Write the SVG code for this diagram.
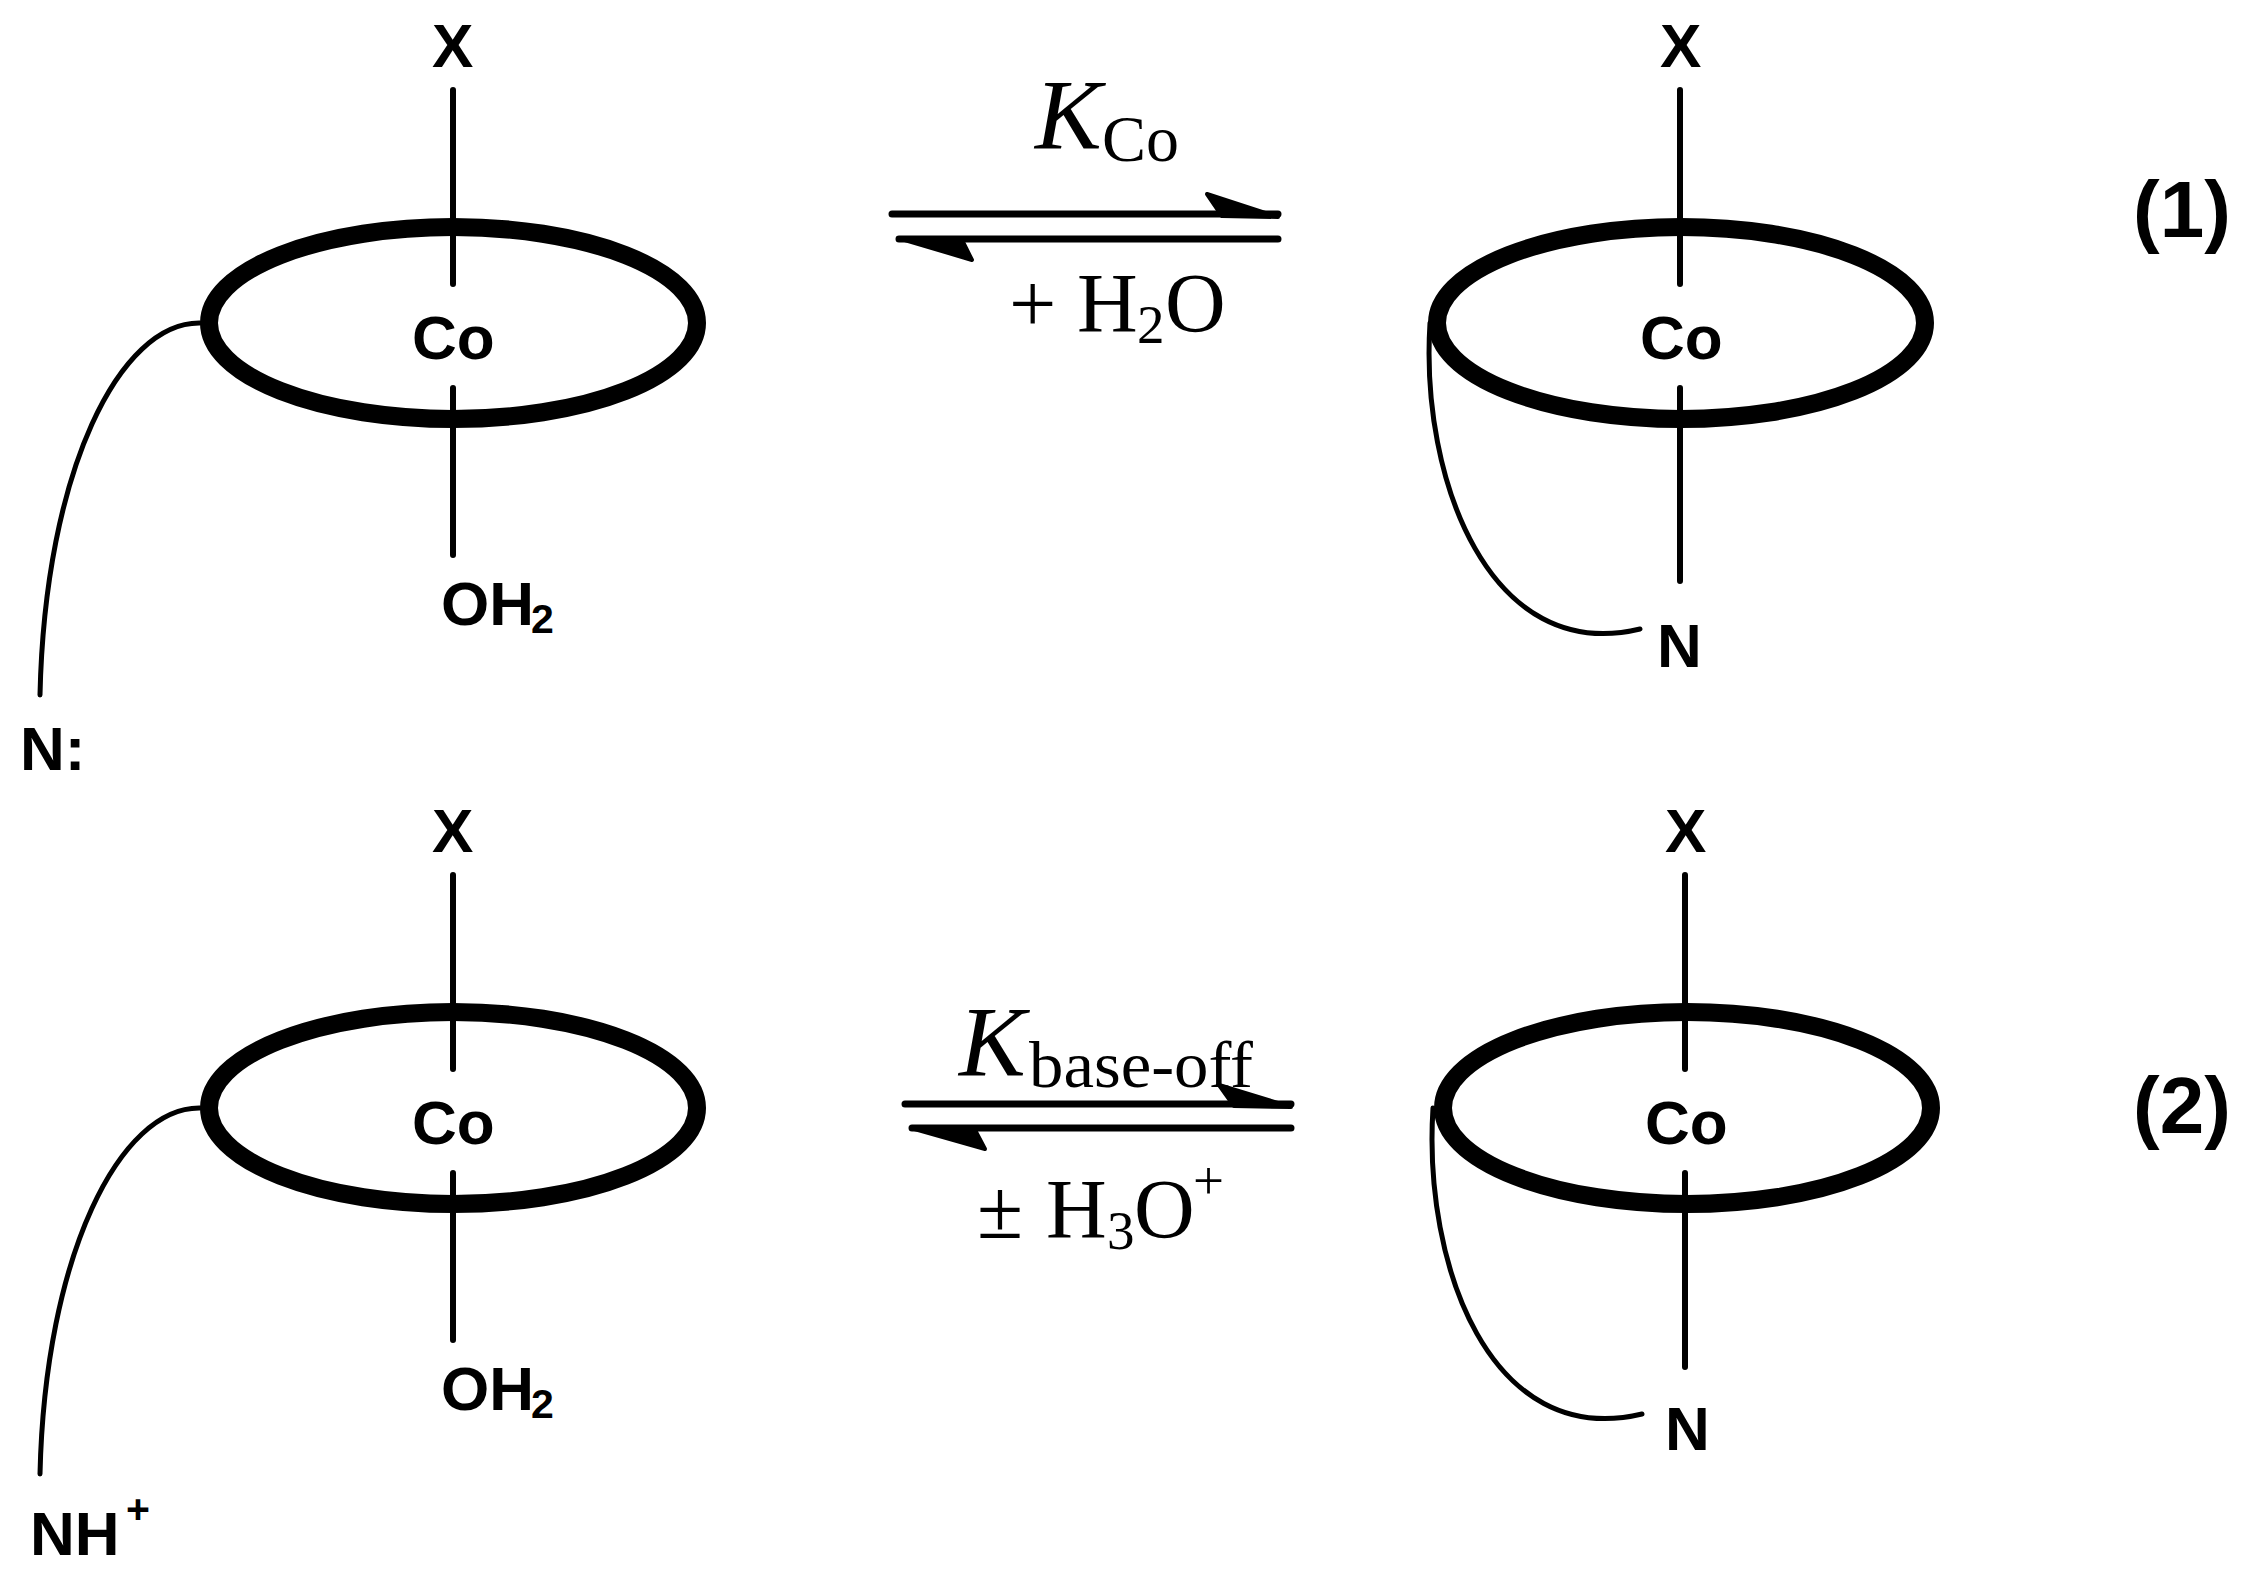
<svg xmlns="http://www.w3.org/2000/svg" width="2251" height="1578" viewBox="0 0 2251 1578">
<style>
.ring{fill:none;stroke:#000;stroke-width:18}
.bond{fill:none;stroke:#000;stroke-width:6;stroke-linecap:round}
.arm{fill:none;stroke:#000;stroke-width:5;stroke-linecap:round}
.arr{fill:none;stroke:#000;stroke-width:7;stroke-linecap:round}
.head{fill:#000;stroke:#000;stroke-width:4;stroke-linejoin:round}
text{fill:#000}
.b{font-family:"Liberation Sans",Arial,sans-serif;font-weight:700;font-size:62px}
.s{font-family:"Liberation Sans",Arial,sans-serif;font-weight:700;font-size:41px}
.n{font-family:"Liberation Sans",Arial,sans-serif;font-weight:700;font-size:80px}
.k{font-family:"Liberation Serif","Times New Roman",serif;font-style:italic;font-size:100px}
.t{font-family:"Liberation Serif","Times New Roman",serif;font-size:84px}
.u{font-family:"Liberation Serif","Times New Roman",serif;font-size:66px}
.v{font-family:"Liberation Serif","Times New Roman",serif;font-size:55px}
</style>
<g id="complex-1-left">
<ellipse class="ring" cx="453" cy="323" rx="244" ry="96"/>
<path class="bond" d="M453 90V284M453 388V555"/>
<path class="arm" d="M200 323C120 322 45 470 40 695"/>
<text class="b" x="432" y="67">X</text>
<text class="b" x="412" y="359">Co</text>
<text class="b" x="441" y="625">OH</text>
<text class="s" x="531" y="633">2</text>
<text class="b" x="20" y="770">N:</text>
</g>
<g id="complex-1-right">
<ellipse class="ring" cx="1681" cy="323" rx="244" ry="96"/>
<path class="bond" d="M1680 90V284M1680 388V581"/>
<path class="arm" d="M1430 323C1420 480 1490 665 1640 629"/>
<text class="b" x="1660" y="67">X</text>
<text class="b" x="1640" y="359">Co</text>
<text class="b" x="1657" y="667">N</text>
</g>
<g id="complex-2-left">
<ellipse class="ring" cx="453" cy="1108" rx="244" ry="96"/>
<path class="bond" d="M453 875V1069M453 1173V1340"/>
<path class="arm" d="M200 1108C120 1107 45 1255 40 1474"/>
<text class="b" x="432" y="852">X</text>
<text class="b" x="412" y="1144">Co</text>
<text class="b" x="441" y="1410">OH</text>
<text class="s" x="531" y="1418">2</text>
<text class="b" x="30" y="1555">NH</text>
<text class="s" x="126" y="1523">+</text>
</g>
<g id="complex-2-right">
<ellipse class="ring" cx="1687" cy="1108" rx="244" ry="96"/>
<path class="bond" d="M1685 875V1069M1685 1173V1367"/>
<path class="arm" d="M1433 1108C1423 1265 1490 1450 1642 1414"/>
<text class="b" x="1665" y="852">X</text>
<text class="b" x="1645" y="1144">Co</text>
<text class="b" x="1665" y="1450">N</text>
</g>
<g id="connectors">
<path class="arr" d="M892 214H1278M899 239H1278"/>
<polygon class="head" points="1278,217 1207,194 1222,216"/>
<polygon class="head" points="898,238 972,260 962,240"/>
<path class="arr" d="M905 1104H1291M912 1128H1291"/>
<polygon class="head" points="1291,1107 1219,1085 1234,1106"/>
<polygon class="head" points="911,1128 985,1149 975,1130"/>
</g>
<g id="label-kco">
<text class="k" x="1035" y="148">K</text>
<text class="u" x="1102" y="161">Co</text>
</g>
<g id="label-water">
<text class="t" x="1009" y="332">+</text>
<text class="t" x="1077" y="332">H</text>
<text class="v" x="1137" y="343">2</text>
<text class="t" x="1165" y="332">O</text>
</g>
<g id="label-kbase">
<text class="k" x="959" y="1075">K</text>
<text class="u" x="1029" y="1087" textLength="224" lengthAdjust="spacingAndGlyphs">base-off</text>
</g>
<g id="label-hydronium">
<text class="t" x="977" y="1238">±</text>
<text class="t" x="1046" y="1238">H</text>
<text class="v" x="1107" y="1249">3</text>
<text class="t" x="1134" y="1238">O</text>
<text class="v" x="1193" y="1199">+</text>
</g>
<g id="eq-1"><text class="n" x="2133" y="237">(1)</text></g>
<g id="eq-2"><text class="n" x="2133" y="1133">(2)</text></g>
</svg>
